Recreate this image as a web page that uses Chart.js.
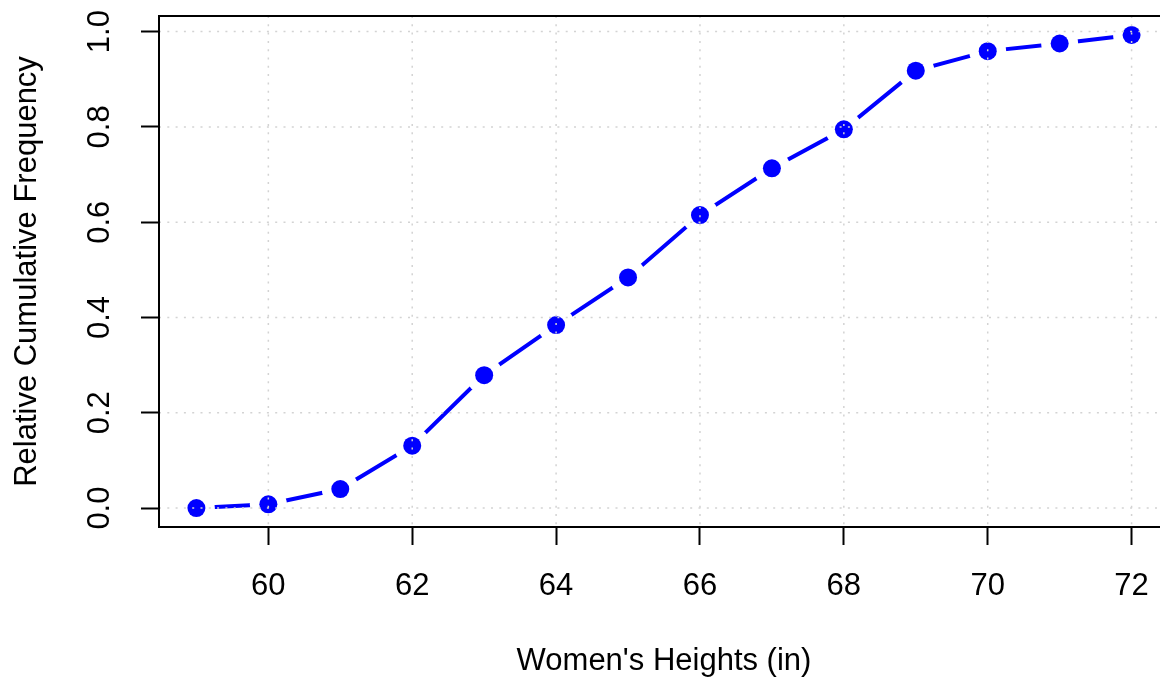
<!DOCTYPE html>
<html>
<head>
<meta charset="utf-8">
<style>
  html, body { margin: 0; padding: 0; overflow: hidden; background: #ffffff; }
  canvas { display: block; }
</style>
<script src="https://cdn.jsdelivr.net/npm/chart.js@4.4.1/dist/chart.umd.min.js"></script>
</head>
<body>
<canvas id="ogive" width="1180" height="677" style="width:1180px;height:677px"></canvas>
<script>
// Women's heights (inches) and their relative cumulative frequencies
const heights = [59, 60, 61, 62, 63, 64, 65, 66, 67, 68, 69, 70, 71, 72];
const relCumFreq = [0.000, 0.008, 0.040, 0.131, 0.279, 0.384, 0.484, 0.615, 0.713, 0.795, 0.918, 0.959, 0.975, 0.993];

// Axis tick positions
const xTicks = [60, 62, 64, 66, 68, 70, 72];
const yTicks = [0.0, 0.2, 0.4, 0.6, 0.8, 1.0];

const FONT = "'Liberation Sans', Arial, Helvetica, sans-serif";
const FONT_SIZE = 31;
const BLUE = '#0000ff';

// Axis limits padded 4% beyond the data range on each side
function paddedRange(vals) {
  const lo = Math.min(...vals), hi = Math.max(...vals);
  const ext = (hi - lo) * 0.04;
  return [lo - ext, hi + ext];
}
const [xMin, xMax] = paddedRange(heights);
const [yMin, yMax] = paddedRange(relCumFreq);

const points = heights.map((h, i) => ({ x: h, y: relCumFreq[i] }));

// Dotted reference grid drawn above the data
const gridOverlay = {
  id: 'gridOverlay',
  afterDatasetsDraw(chart) {
    const { ctx, chartArea: a, scales: { x, y } } = chart;
    ctx.save();
    ctx.strokeStyle = '#d3d3d3';
    ctx.lineWidth = 1.5;
    ctx.setLineDash([2, 6.3]);
    xTicks.forEach(v => {
      const px = x.getPixelForValue(v);
      ctx.beginPath(); ctx.moveTo(px, a.top); ctx.lineTo(px, a.bottom); ctx.stroke();
    });
    yTicks.forEach(v => {
      const py = y.getPixelForValue(v);
      ctx.beginPath(); ctx.moveTo(a.left, py); ctx.lineTo(a.right, py); ctx.stroke();
    });
    ctx.restore();
  }
};

// Frame around the plotting region (its right side lies just past the visible edge)
const plotFrame = {
  id: 'plotFrame',
  afterDraw(chart) {
    const { ctx, chartArea: a } = chart;
    ctx.save();
    ctx.strokeStyle = '#000000';
    ctx.lineWidth = 2;
    ctx.setLineDash([]);
    ctx.strokeRect(a.left, a.top, a.right - a.left, a.bottom - a.top);
    ctx.restore();
  }
};

const tickGrid = {
  display: true,
  drawOnChartArea: false,
  drawTicks: true,
  tickLength: 18,
  tickWidth: 2,
  tickColor: '#000000'
};

new Chart(document.getElementById('ogive'), {
  type: 'scatter',
  data: {
    datasets: [
      {
        // filled markers
        data: points,
        showLine: false,
        pointRadius: 9,
        pointBackgroundColor: BLUE,
        pointBorderWidth: 0
      },
      {
        // connecting segments, broken around each marker
        data: points,
        showLine: true,
        borderColor: BLUE,
        borderWidth: 4,
        borderCapStyle: 'round',
        tension: 0,
        pointRadius: 18.5,
        pointBackgroundColor: '#ffffff',
        pointBorderWidth: 0
      }
    ]
  },
  options: {
    responsive: false,
    animation: false,
    devicePixelRatio: 1,
    events: [],
    layout: { autoPadding: false, padding: { top: 16, right: 11, bottom: 0, left: 0 } },
    plugins: { legend: { display: false }, tooltip: { enabled: false } },
    scales: {
      x: {
        type: 'linear',
        position: 'bottom',
        min: xMin,
        max: xMax,
        afterBuildTicks: s => { s.ticks = xTicks.map(v => ({ value: v })); },
        afterFit: s => { s.height = 150; s.paddingLeft = 0; s.paddingRight = 0; },
        grid: tickGrid,
        border: { display: false },
        ticks: {
          autoSkip: false,
          maxRotation: 0,
          minRotation: 0,
          padding: 22.4,
          color: '#000000',
          font: { family: FONT, size: FONT_SIZE },
          callback: v => String(v)
        },
        title: {
          display: true,
          text: "Women's Heights (in)",
          color: '#000000',
          font: { family: FONT, size: FONT_SIZE, lineHeight: 1 },
          padding: { top: 0, bottom: 0.5 }
        }
      },
      y: {
        type: 'linear',
        position: 'left',
        min: yMin,
        max: yMax,
        afterBuildTicks: s => { s.ticks = yTicks.map(v => ({ value: v })); },
        afterFit: s => { s.width = 159; s.paddingTop = 0; s.paddingBottom = 0; },
        grid: tickGrid,
        border: { display: false },
        ticks: {
          autoSkip: false,
          minRotation: 90,
          maxRotation: 90,
          crossAlign: 'center',
          padding: 18.5,
          color: '#000000',
          font: { family: FONT, size: FONT_SIZE },
          callback: v => v.toFixed(1)
        },
        title: {
          display: true,
          text: 'Relative Cumulative Frequency',
          color: '#000000',
          font: { family: FONT, size: FONT_SIZE, lineHeight: 1 },
          padding: { top: 11.5, bottom: 0 }
        }
      }
    }
  },
  plugins: [gridOverlay, plotFrame]
});
</script>
</body>
</html>
